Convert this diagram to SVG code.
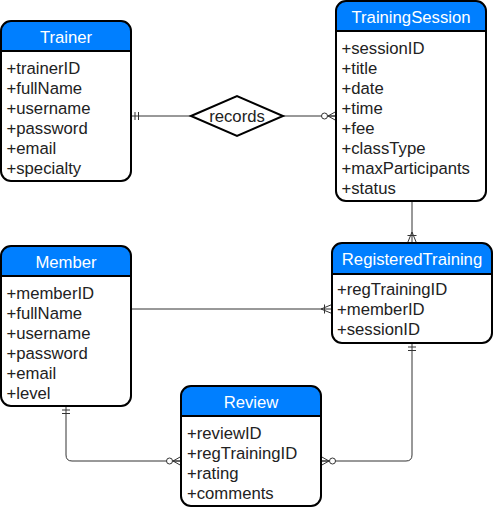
<svg xmlns="http://www.w3.org/2000/svg" width="493" height="507" viewBox="0 0 493 507">
<style>
.body{fill:#fff;stroke:none}
.hdr{fill:#007FFF;stroke:none}
.outline{fill:none;stroke:#000;stroke-width:2}
.div{stroke:#000;stroke-width:2}
.title{font-family:"Liberation Sans",Arial,sans-serif;font-size:16.7px;fill:#fff;text-anchor:middle}
.attr{font-family:"Liberation Sans",Arial,sans-serif;font-size:16.7px;fill:#222}
.conn{fill:none;stroke:#333;stroke-width:1}
.mk{fill:none;stroke:#333;stroke-width:1}
.lbl{font-family:"Liberation Sans",Arial,sans-serif;font-size:16.7px;fill:#222;text-anchor:middle}
</style>
<defs>
<marker id="mandOne" markerUnits="userSpaceOnUse" markerWidth="20" markerHeight="20" viewBox="0 0 20 20" refX="20" refY="10" orient="auto-start-reverse" overflow="visible">
<path class="mk" d="M16,6 V14 M12.5,6 V14"/>
</marker>
<marker id="zeroMany" markerUnits="userSpaceOnUse" markerWidth="20" markerHeight="20" viewBox="0 0 20 20" refX="20" refY="10" orient="auto-start-reverse" overflow="visible">
<path class="mk" d="M12,10 L20,5.5 M12,10 L20,14.5 M12,10 L20,10"/>
<circle cx="8.5" cy="10" r="3" fill="#fff" stroke="#333" stroke-width="1"/>
</marker>
<marker id="oneMany" markerUnits="userSpaceOnUse" markerWidth="20" markerHeight="20" viewBox="0 0 20 20" refX="20" refY="10" orient="auto-start-reverse" overflow="visible">
<path class="mk" d="M9,10 L20,5.5 M9,10 L20,14.5 M12.5,5.5 V14.5"/>
</marker>
</defs>

<g id="connectors">
<path class="conn" d="M131,116 H191" marker-start="url(#mandOne)"/>
<path class="conn" d="M283,116 H336" marker-end="url(#zeroMany)"/>
<path class="conn" d="M412,201 V243" marker-end="url(#oneMany)"/>
<path class="conn" d="M131,309 H332" marker-end="url(#oneMany)"/>
<path class="conn" d="M66,406 V455 Q66,461 72,461 H181" marker-start="url(#mandOne)" marker-end="url(#zeroMany)"/>
<path class="conn" d="M412,343 V455 Q412,461 406,461 H321" marker-start="url(#mandOne)" marker-end="url(#zeroMany)"/>
</g>

<g id="records">
<polygon points="191,116 237,96 283,116 237,136" fill="#fff" stroke="#000" stroke-width="2"/>
<text class="lbl" x="237" y="121.5">records</text>
</g>

<g id="Trainer">
<rect class="body" x="1" y="21" width="130" height="160" rx="10"/>
<path class="hdr" d="M1,51 V31 A10,10 0 0 1 11,21 H121 A10,10 0 0 1 131,31 V51 Z"/>
<line class="div" x1="1" y1="51" x2="131" y2="51"/>
<rect class="outline" x="1" y="21" width="130" height="160" rx="10"/>
<text class="title" x="66" y="42.5">Trainer</text>
<text class="attr" x="6.5" y="74">+trainerID</text>
<text class="attr" x="6.5" y="94">+fullName</text>
<text class="attr" x="6.5" y="114">+username</text>
<text class="attr" x="6.5" y="134">+password</text>
<text class="attr" x="6.5" y="154">+email</text>
<text class="attr" x="6.5" y="174">+specialty</text>
</g>

<g id="TrainingSession">
<rect class="body" x="336" y="1" width="150" height="200" rx="10"/>
<path class="hdr" d="M336,31 V11 A10,10 0 0 1 346,1 H476 A10,10 0 0 1 486,11 V31 Z"/>
<line class="div" x1="336" y1="31" x2="486" y2="31"/>
<rect class="outline" x="336" y="1" width="150" height="200" rx="10"/>
<text class="title" x="411" y="23">TrainingSession</text>
<text class="attr" x="341.5" y="53.5">+sessionID</text>
<text class="attr" x="341.5" y="73.5">+title</text>
<text class="attr" x="341.5" y="93.5">+date</text>
<text class="attr" x="341.5" y="113.5">+time</text>
<text class="attr" x="341.5" y="133.5">+fee</text>
<text class="attr" x="341.5" y="153.5">+classType</text>
<text class="attr" x="341.5" y="173.5">+maxParticipants</text>
<text class="attr" x="341.5" y="193.5">+status</text>
</g>

<g id="Member">
<rect class="body" x="1" y="246" width="130" height="160" rx="10"/>
<path class="hdr" d="M1,276 V256 A10,10 0 0 1 11,246 H121 A10,10 0 0 1 131,256 V276 Z"/>
<line class="div" x1="1" y1="276" x2="131" y2="276"/>
<rect class="outline" x="1" y="246" width="130" height="160" rx="10"/>
<text class="title" x="66" y="267.5">Member</text>
<text class="attr" x="6.5" y="299">+memberID</text>
<text class="attr" x="6.5" y="319">+fullName</text>
<text class="attr" x="6.5" y="339">+username</text>
<text class="attr" x="6.5" y="359">+password</text>
<text class="attr" x="6.5" y="379">+email</text>
<text class="attr" x="6.5" y="399">+level</text>
</g>

<g id="RegisteredTraining">
<rect class="body" x="332" y="243" width="160" height="100" rx="10"/>
<path class="hdr" d="M332,274 V253 A10,10 0 0 1 342,243 H482 A10,10 0 0 1 492,253 V274 Z"/>
<line class="div" x1="332" y1="274" x2="492" y2="274"/>
<rect class="outline" x="332" y="243" width="160" height="100" rx="10"/>
<text class="title" x="412" y="265">RegisteredTraining</text>
<text class="attr" x="337" y="295">+regTrainingID</text>
<text class="attr" x="337" y="315">+memberID</text>
<text class="attr" x="337" y="335">+sessionID</text>
</g>

<g id="Review">
<rect class="body" x="181" y="386" width="140" height="120" rx="10"/>
<path class="hdr" d="M181,416 V396 A10,10 0 0 1 191,386 H311 A10,10 0 0 1 321,396 V416 Z"/>
<line class="div" x1="181" y1="416" x2="321" y2="416"/>
<rect class="outline" x="181" y="386" width="140" height="120" rx="10"/>
<text class="title" x="251" y="407.5">Review</text>
<text class="attr" x="187" y="439">+reviewID</text>
<text class="attr" x="187" y="459">+regTrainingID</text>
<text class="attr" x="187" y="479">+rating</text>
<text class="attr" x="187" y="499">+comments</text>
</g>
</svg>
